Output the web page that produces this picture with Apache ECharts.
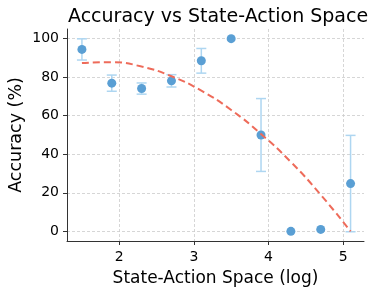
<!DOCTYPE html>
<html><head><meta charset="utf-8">
<script src="https://cdn.jsdelivr.net/npm/echarts@6/dist/echarts.min.js"></script>
<style>html,body{margin:0;padding:0;background:#fff}#c{width:377px;height:295px}</style>
</head><body><div id="c"></div>
<script>
const xValues = [1.5, 1.9, 2.3, 2.7, 3.1, 3.5, 3.9, 4.3, 4.7, 5.1];
const accuracy = [94.4, 76.9, 74.1, 78.1, 88.5, 100, 50, 0, 1, 24.8];
const errors = [5.5, 4.2, 2.9, 3.2, 6.4, 0, 18.9, 0, 0, 25];
const fitValues = [87.3, 87.8, 85.5, 80.5, 73, 63, 50.5, 36, 19, 0];
const xTicks = [2, 3, 4, 5];
const yTicks = [0, 20, 40, 60, 80, 100];

const font = 'DejaVu Sans';
const chart = echarts.init(document.getElementById('c'), null, {renderer: 'canvas'});
const errData = xValues.map((x, i) => [x, accuracy[i] - errors[i], accuracy[i] + errors[i]]);
chart.setOption({
  animation: false,
  backgroundColor: '#fff',
  title: {
    text: 'Accuracy vs State-Action Space',
    left: 63, top: 3,
    textStyle: {fontFamily: font, fontSize: 19, fontWeight: 'normal', color: '#000'}
  },
  grid: {left: 67, right: 13, top: 29, bottom: 54, containLabel: false, outerBoundsMode: 'none'},
  xAxis: {
    type: 'value', min: 1.3, max: 5.28,
    name: 'State-Action Space (log)', nameLocation: 'middle', nameGap: 29,
    nameTextStyle: {fontFamily: font, fontSize: 17, color: '#000'},
    axisLine: {show: true, onZero: false, lineStyle: {color: '#333', width: 1}},
    axisTick: {show: true, customValues: xTicks, length: 4, lineStyle: {color: '#333'}},
    axisLabel: {customValues: xTicks, fontFamily: font, fontSize: 14, color: '#000', margin: 9},
    splitLine: {show: true, lineStyle: {color: '#cccccc', type: [3, 2], width: 0.8}}
  },
  yAxis: {
    type: 'value', min: -5, max: 105,
    name: 'Accuracy (%)', nameLocation: 'middle', nameGap: 42, nameRotate: 90,
    nameMoveOverlap: false,
    nameTextStyle: {fontFamily: font, fontSize: 17.5, color: '#000'},
    axisLine: {show: true, onZero: false, lineStyle: {color: '#333', width: 1}},
    axisTick: {show: true, customValues: yTicks, length: 4, lineStyle: {color: '#333'}},
    axisLabel: {customValues: yTicks, fontFamily: font, fontSize: 14, color: '#000', margin: 8},
    splitLine: {show: true, lineStyle: {color: '#cccccc', type: [3, 2], width: 0.8}}
  },
  series: [
    {
      type: 'custom',
      data: errData,
      z: 1,
      renderItem: function (params, api) {
        if (errors[params.dataIndex] === 0) return null;
        const x = api.value(0);
        const lo = api.coord([x, api.value(1)]);
        const hi = api.coord([x, api.value(2)]);
        const hw = 5;
        const style = {stroke: '#aed6f1', lineWidth: 1.5};
        return {
          type: 'group',
          children: [
            {type: 'line', shape: {x1: lo[0], y1: lo[1], x2: hi[0], y2: hi[1]}, style},
            {type: 'line', shape: {x1: lo[0] - hw, y1: lo[1], x2: lo[0] + hw, y2: lo[1]}, style},
            {type: 'line', shape: {x1: hi[0] - hw, y1: hi[1], x2: hi[0] + hw, y2: hi[1]}, style}
          ]
        };
      }
    },
    {
      type: 'scatter',
      data: xValues.map((x, i) => [x, accuracy[i]]),
      symbolSize: 9,
      z: 3,
      itemStyle: {color: '#5a9fd4', opacity: 1}
    },
    {
      type: 'line',
      data: xValues.map((x, i) => [x, fitValues[i]]),
      smooth: true,
      showSymbol: false,
      z: 4,
      lineStyle: {color: '#ee6b5a', width: 2, type: [7, 4]}
    }
  ]
});
</script></body></html>
